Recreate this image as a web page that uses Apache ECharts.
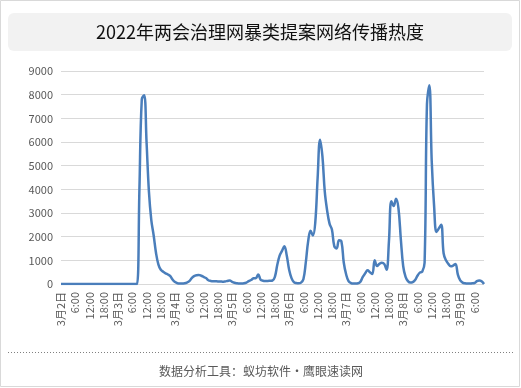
<!DOCTYPE html>
<html>
<head>
<meta charset="utf-8">
<script src="https://cdn.jsdelivr.net/npm/echarts@6/dist/echarts.min.js"></script>
<style>
html,body{margin:0;padding:0;background:#fff;}
#c{width:521px;height:388px;}
</style>
</head>
<body>
<div id="c"></div>
<script>
const titleText = '2022年两会治理网暴类提案网络传播热度';
const footerText = '数据分析工具：蚁坊软件・鹰眼速读网';
const days = ['3月2日','3月3日','3月4日','3月5日','3月6日','3月7日','3月8日','3月9日'];
const yTicks = [0,1000,2000,3000,4000,5000,6000,7000,8000,9000];
// hourly heat values, 3月2日 0:00 -> 3月9日 10:00
const heat = [
  // 3月2日 0-23
  0,0,0,0,0,0,0,0,0,0,0,0,0,0,0,0,0,0,0,0,0,0,0,0,
  // 3月3日 0-23
  0,0,0,0,0,0,0,0,0,4000,7800,7980,6000,3900,2700,2050,1300,820,600,520,450,400,330,180,
  // 3月4日 0-23
  80,30,20,20,30,60,120,250,330,370,380,350,300,250,160,130,120,120,110,110,100,110,130,150,
  // 3月5日 0-23
  90,50,30,20,20,30,60,120,170,240,250,400,180,140,130,130,140,150,300,800,1200,1400,1600,1200,
  // 3月6日 0-23
  600,250,80,40,30,60,200,900,1800,2250,2050,2600,4500,6100,5400,3900,3100,2550,2300,1600,1500,1850,1800,900,
  // 3月7日 0-23
  400,120,40,20,20,30,100,300,450,580,500,420,1000,760,850,900,850,600,1800,3500,3300,3600,3200,1900,
  // 3月8日 0-23
  750,300,120,60,80,170,350,480,520,900,7600,8400,5200,3300,2200,2350,2500,1300,1000,850,750,780,850,400,
  // 3月9日 0-10
  150,60,30,20,20,30,40,120,150,120,0
];
const categories = [];
for (let i = 0; i < heat.length; i++) {
  const d = Math.floor(i / 24), h = i % 24;
  categories.push(h === 0 ? days[d] : (h + ':00'));
}

const chart = echarts.init(document.getElementById('c'));
const FONT = '"Noto Sans CJK SC","Noto Sans",sans-serif';
chart.setOption({
  animation: false,
  backgroundColor: '#fff',
  grid: {left: 61, right: 37, top: 71, bottom: 104},
  xAxis: {
    type: 'category',
    data: categories,
    boundaryGap: false,
    axisLine: {show: false},
    axisTick: {show: false},
    splitLine: {show: false},
    axisLabel: {
      interval: 5,
      rotate: 90,
      margin: 8,
      fontSize: 11,
      color: '#595959',
      fontFamily: FONT
    }
  },
  yAxis: {
    type: 'value',
    min: yTicks[0],
    max: yTicks[yTicks.length - 1],
    interval: 1000,
    axisLine: {show: false},
    axisTick: {show: false},
    splitLine: {lineStyle: {color: '#d9d9d9', width: 1}},
    axisLabel: {fontSize: 11, color: '#595959', margin: 8, fontFamily: FONT, formatter: function (v) { return String(v); }}
  },
  series: [{
    type: 'line',
    data: heat,
    smooth: 0.4,
    showSymbol: false,
    lineStyle: {color: '#4a7ebb', width: 2.5},
    itemStyle: {color: '#4a7ebb'}
  }],
  graphic: [
    {type: 'rect', shape: {x: 0.5, y: 0.5, width: 519, height: 386}, style: {fill: 'none', stroke: '#d9d9d9', lineWidth: 1}, z: 0},
    {type: 'rect', shape: {x: 8, y: 13, width: 504, height: 38, r: 6}, style: {fill: '#f2f2f2'}, z: 0},
    {type: 'text', x: 260, y: 32, style: {text: titleText, font: '18px ' + FONT, fill: '#111', textAlign: 'center', textVerticalAlign: 'middle'}, z: 1},
    {type: 'line', shape: {x1: 8, y1: 352.5, x2: 513, y2: 352.5}, style: {stroke: '#808080', lineWidth: 1, lineDash: [1, 2]}, z: 1},
    {type: 'text', x: 261, y: 371, style: {text: footerText, font: '12px ' + FONT, fill: '#595959', textAlign: 'center', textVerticalAlign: 'middle'}, z: 1}
  ]
});
</script>
</body>
</html>
